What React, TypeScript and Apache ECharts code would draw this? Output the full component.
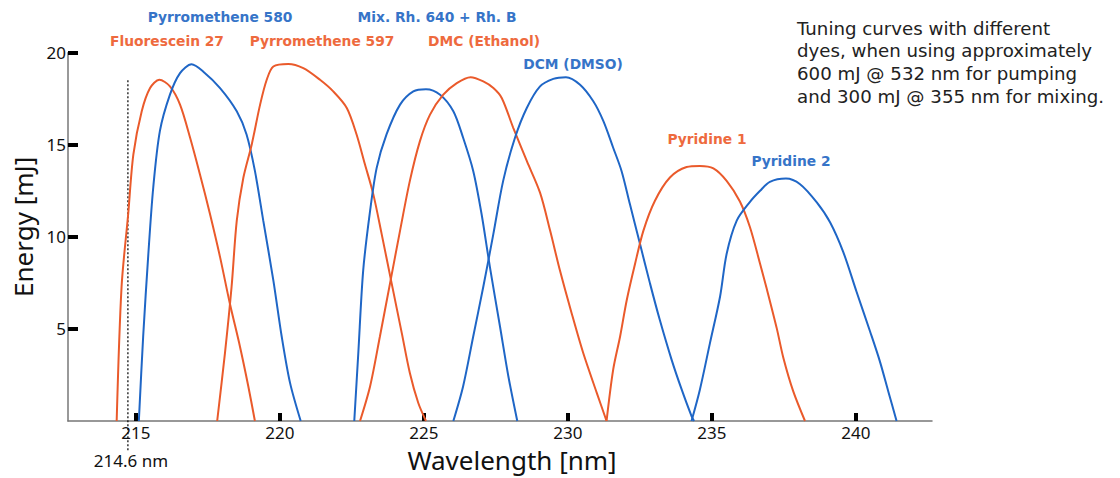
import React, { useEffect, useRef } from "react";
import * as echarts from "echarts";

const BLUE = "#1f66c6";
const ORANGE = "#ea5a2b";
const BLUE_TXT = "#3674c8";
const ORANGE_TXT = "#ee6a3e";

const fluorescein27: [number, number][] = [
  [214.33, 0], [214.5, 7.29], [214.73, 11.24], [214.91, 14.48], [215.2, 16.82], [215.49, 18.08],
  [215.81, 18.53], [216.18, 18.17], [216.53, 17.18], [216.88, 15.38], [217.22, 13.4], [217.57, 11.24],
  [217.92, 8.9], [218.26, 6.38], [218.61, 4.05], [218.9, 1.89], [219.13, 0],
];
const pyrromethene580: [number, number][] = [
  [215.1, 0], [215.25, 4.59], [215.43, 9.08], [215.6, 12.68], [215.83, 15.74], [216.18, 17.72],
  [216.53, 18.89], [216.93, 19.37], [217.34, 18.97], [217.92, 18.08], [218.5, 16.82], [218.84, 15.56],
  [219.13, 13.58], [219.42, 10.88], [219.77, 7.64], [220.06, 4.59], [220.35, 2.07], [220.72, 0],
];
const pyrromethene597: [number, number][] = [
  [217.82, 0], [218.09, 3.69], [218.32, 7.29], [218.5, 10.88], [218.73, 13.22], [219.02, 15.02],
  [219.31, 17.18], [219.54, 18.53], [219.77, 19.25], [220.29, 19.39], [220.81, 19.16], [221.39, 18.53],
  [221.85, 17.9], [222.32, 17.0], [222.66, 15.56], [222.95, 13.94], [223.24, 12.32], [223.53, 10.16],
  [223.88, 7.46], [224.23, 4.77], [224.51, 2.61], [224.8, 0.99], [225.07, 0],
];
const mixRh640RhB: [number, number][] = [
  [222.58, 0], [222.72, 3.69], [222.89, 8.18], [223.13, 11.42], [223.36, 13.76], [223.7, 15.56],
  [224.17, 17.18], [224.63, 17.9], [225.07, 18.02], [225.56, 17.72], [226.02, 16.82], [226.36, 15.38],
  [226.71, 13.58], [227.0, 11.24], [227.29, 8.36], [227.64, 5.13], [227.93, 2.43], [228.24, 0],
];
const dmcEthanol: [number, number][] = [
  [222.78, 0], [223.13, 1.89], [223.47, 4.59], [223.82, 7.46], [224.17, 10.34], [224.51, 13.04],
  [224.86, 15.2], [225.21, 16.64], [225.67, 17.72], [226.14, 18.35], [226.62, 18.67], [227.06, 18.44],
  [227.41, 18.08], [227.7, 17.54], [228.1, 15.92], [228.57, 14.12], [229.03, 12.4], [229.38, 10.34],
  [229.72, 8.18], [230.13, 5.84], [230.53, 3.69], [231.0, 1.53], [231.34, 0],
];
const dcmDmso: [number, number][] = [
  [226.02, 0], [226.36, 1.89], [226.71, 4.59], [227.06, 7.29], [227.41, 10.16], [227.75, 13.04],
  [228.16, 15.38], [228.57, 17.0], [229.03, 18.17], [229.49, 18.58], [229.93, 18.67], [230.42, 18.26],
  [230.88, 17.36], [231.23, 16.28], [231.57, 14.84], [231.86, 13.58], [232.15, 11.78], [232.5, 9.62],
  [232.85, 7.46], [233.19, 5.48], [233.6, 3.32], [233.95, 1.7], [234.29, 0.27], [234.38, 0],
];
const pyridine1: [number, number][] = [
  [231.34, 0], [231.57, 2.79], [231.81, 4.59], [232.04, 6.56], [232.33, 8.54], [232.62, 10.34],
  [233.02, 11.96], [233.54, 13.22], [234.12, 13.79], [234.58, 13.85], [235.05, 13.72], [235.51, 13.04],
  [235.97, 11.92], [236.32, 10.52], [236.67, 8.54], [236.9, 7.19], [237.25, 5.03], [237.48, 3.42],
  [237.82, 1.62], [238.23, 0],
];
const pyridine2: [number, number][] = [
  [234.29, 0], [234.58, 1.7], [234.93, 4.23], [235.28, 6.75], [235.51, 9.08], [235.86, 10.88],
  [236.32, 11.9], [236.67, 12.5], [237.01, 12.99], [237.57, 13.17], [238.06, 12.86], [238.64, 11.87],
  [239.1, 10.79], [239.56, 9.17], [240.02, 7.02], [240.49, 4.86], [240.83, 3.24], [241.12, 1.62],
  [241.41, 0],
];

const xTicks = [215, 220, 225, 230, 235, 240];
const yTicks = [5, 10, 15, 20];
const markerWavelength = 214.72;
const markerTop = 18.5;
const markerLabel = "214.6 nm";

const seriesDefs = [
  { name: "Fluorescein 27", data: fluorescein27, color: ORANGE },
  { name: "Pyrromethene 580", data: pyrromethene580, color: BLUE },
  { name: "Pyrromethene 597", data: pyrromethene597, color: ORANGE },
  { name: "Mix. Rh. 640 + Rh. B", data: mixRh640RhB, color: BLUE },
  { name: "DMC (Ethanol)", data: dmcEthanol, color: ORANGE },
  { name: "DCM (DMSO)", data: dcmDmso, color: BLUE },
  { name: "Pyridine 1", data: pyridine1, color: ORANGE },
  { name: "Pyridine 2", data: pyridine2, color: BLUE },
];

const dyeLabels = [
  { text: "Pyrromethene 580", x: 220, y: 17, color: BLUE_TXT },
  { text: "Mix. Rh. 640 + Rh. B", x: 437, y: 17, color: BLUE_TXT },
  { text: "Fluorescein 27", x: 167, y: 41, color: ORANGE_TXT },
  { text: "Pyrromethene 597", x: 322, y: 41, color: ORANGE_TXT },
  { text: "DMC (Ethanol)", x: 484, y: 41, color: ORANGE_TXT },
  { text: "DCM (DMSO)", x: 573, y: 64, color: BLUE_TXT },
  { text: "Pyridine 1", x: 707, y: 139, color: ORANGE_TXT },
  { text: "Pyridine 2", x: 791, y: 161, color: BLUE_TXT },
];

const noteLines = [
  "Tuning curves with different",
  "dyes, when using approximately",
  "600 mJ @ 532 nm for pumping",
  "and 300 mJ @ 355 nm for mixing.",
];

export default function App() {
  const ref = useRef<HTMLDivElement>(null);
  useEffect(() => {
    document.body.style.margin = "0";
    const chart = echarts.init(ref.current!, null, { renderer: "svg" });
    const font = "Noto Sans";
    const option: any = {
      animation: false,
      backgroundColor: "#ffffff",
      grid: { left: 68, right: 188, top: 52.7, bottom: 54.7 },
      xAxis: {
        type: "value",
        min: 212.64,
        max: 242.64,
        name: "Wavelength [nm]",
        nameLocation: "middle",
        nameGap: 26,
        nameTextStyle: { fontSize: 26, color: "#111", fontFamily: font, padding: [0, 0, 0, 24] },
        axisLine: { show: true, lineStyle: { color: "#777", width: 1.5 } },
        axisTick: { show: true, inside: true, length: 8, customValues: xTicks, lineStyle: { color: "#000", width: 4 } },
        axisLabel: { customValues: xTicks, fontSize: 17, color: "#111", fontFamily: font, margin: 3 },
        splitLine: { show: false },
      },
      yAxis: {
        type: "value",
        min: 0,
        max: 20,
        name: "Energy [mJ]",
        nameLocation: "middle",
        nameGap: 31,
        nameRotate: 90,
        nameTextStyle: { fontSize: 26, color: "#111", fontFamily: font, padding: [0, 0, 0, 20] },
        axisLine: { show: true, lineStyle: { color: "#777", width: 1.5 } },
        axisTick: { show: true, inside: true, length: 10, customValues: yTicks, lineStyle: { color: "#000", width: 4 } },
        axisLabel: { customValues: yTicks, fontSize: 17, color: "#111", fontFamily: font, margin: 2 },
        splitLine: { show: false },
      },
      series: seriesDefs.map((s) => ({
        name: s.name,
        type: "line",
        data: s.data,
        showSymbol: false,
        smooth: 0.3,
        clip: true,
        lineStyle: { color: s.color, width: 2 },
        itemStyle: { color: s.color },
      })),
    };
    chart.setOption(option);
    const top = chart.convertToPixel({ gridIndex: 0 }, [markerWavelength, markerTop]) as number[];
    const bottom = chart.convertToPixel({ gridIndex: 0 }, [markerWavelength, 0]) as number[];
    chart.setOption({
      graphic: [
        {
          type: "line",
          shape: { x1: top[0], y1: top[1], x2: bottom[0], y2: bottom[1] + 30 },
          style: { stroke: "#000", lineWidth: 1.2, lineDash: [2, 2] },
          z: 1,
        },
        {
          type: "text",
          x: top[0] + 3,
          y: bottom[1] + 39,
          style: { text: markerLabel, fontSize: 17, fontFamily: font, fill: "#111", textAlign: "center", textVerticalAlign: "middle" },
        },
        ...dyeLabels.map((l) => ({
          type: "text",
          x: l.x,
          y: l.y,
          style: { text: l.text, fontSize: 13.8, fontWeight: "bold", fontFamily: "DejaVu Sans", fill: l.color, textAlign: "center", textVerticalAlign: "middle" },
        })),
        ...noteLines.map((t, i) => ({
          type: "text",
          x: 797,
          y: 28 + i * 22.9,
          style: { text: t, fontSize: 18.2, fontFamily: "DejaVu Sans", fill: "#222", textAlign: "left", textVerticalAlign: "middle" },
        })),
      ],
    });
    return () => chart.dispose();
  }, []);
  return <div ref={ref} style={{ width: 1120, height: 478 }} />;
}
